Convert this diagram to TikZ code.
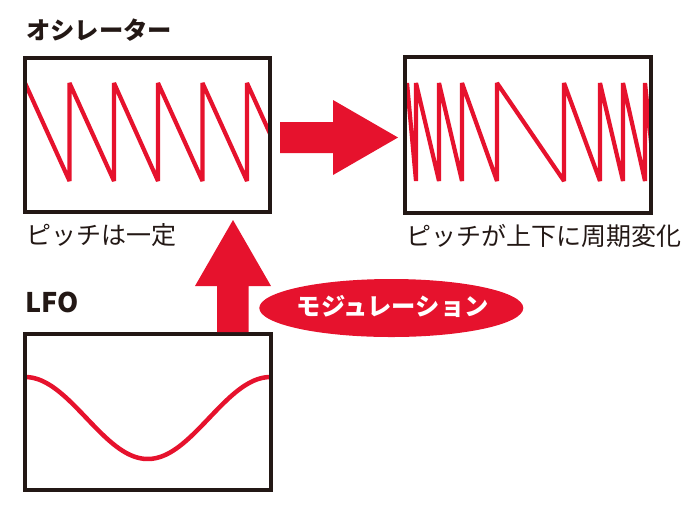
\documentclass[tikz,border=0pt]{standalone}
\usepackage{fontspec}
\usetikzlibrary{shapes.geometric}
\setmainfont{Noto Sans CJK JP}
\definecolor{wred}{RGB}{230,18,45}
\definecolor{ink}{RGB}{35,24,21}
\tikzset{
  box/.style={draw=ink, line width=4pt, rectangle, inner sep=0pt, outer sep=0pt},
  wave/.style={draw=wred, line width=4.2pt, line join=bevel},
  lbl/.style={text=ink, inner sep=0pt, anchor=west},
  bigarrow/.style={fill=wred, draw=none},
}
\begin{document}
\begin{tikzpicture}[x=1pt,y=-1pt]
\useasboundingbox (0,0) rectangle (692,515);

% boxes (positions only; borders drawn last)
\node[minimum width=245pt, minimum height=154pt, inner sep=0pt] (osc) at (147.5,134.5) {};
\node[minimum width=245.5pt, minimum height=156pt, inner sep=0pt] (out) at (527.75,135) {};
\node[minimum width=245.5pt, minimum height=156pt, inner sep=0pt] (lfo) at (147.75,412) {};

% sawtooth (constant pitch)
\begin{scope}
  \clip (osc.south west) rectangle (osc.north east);
  \draw[wave] (25,83) -- (69.5,181) -- (69.5,83) -- (114,181) -- (114,83)
    -- (158,181) -- (158,83) -- (202.5,181) -- (202.5,83) -- (247,181)
    -- (247,83) -- (291.5,181);
\end{scope}

% sawtooth (modulated pitch)
\begin{scope}
  \clip (out.south west) rectangle (out.north east);
  \draw[wave] (407,83) -- (416,181) -- (416,83) -- (439,181) -- (439,83)
    -- (462,181) -- (462,83) -- (497,181) -- (497,83) -- (564,181)
    -- (564,83) -- (600,181) -- (600,83) -- (623,181) -- (623,83)
    -- (645,181) -- (645,83) -- (655,181);
\end{scope}

% LFO sine
\begin{scope}
  \clip (lfo.south west) rectangle (lfo.north east);
  \draw[wave, line width=4.5pt] plot[domain=25:270.5, samples=90, smooth]
    (\x, {418 - 41*cos(1.46640*(\x-25))});
\end{scope}

\node[box, minimum width=245pt, minimum height=154pt] at (osc) {};
\node[box, minimum width=245.5pt, minimum height=156pt] at (out) {};
\node[box, minimum width=245.5pt, minimum height=156pt] at (lfo) {};

% big arrows
\fill[bigarrow] (280,122) -- (333,122) -- (333,100) -- (398,137.5)
  -- (333,175) -- (333,153) -- (280,153) -- cycle;
\fill[bigarrow] (217,332) -- (217,286) -- (195,286) -- (233,220)
  -- (271,286) -- (248.5,286) -- (248.5,332) -- cycle;

% modulation badge
\node[ellipse, fill=wred, minimum width=264pt, minimum height=58pt, inner sep=0pt] (mod) at (391.3,308) {};
\node[text=white, font=\bfseries\fontsize{24.3}{24.3}\selectfont, inner sep=0pt] (modt) at (392.8,306) {モジュレーション};

% labels
\node[lbl, font=\bfseries\fontsize{24.3}{24.3}\selectfont] (tosc) at (26,30) {オシレーター};
\node[lbl, font=\fontsize{25}{25}\selectfont] (tconst) at (26,235) {ピッチは一定};
\node[lbl, font=\fontsize{25}{25}\selectfont] (tvar) at (406.5,236) {ピッチが上下に周期変化};
\node[lbl, font=\bfseries\fontsize{27}{27}\selectfont] (tlfo) at (25,302.5) {LFO};
\end{tikzpicture}
\end{document}
